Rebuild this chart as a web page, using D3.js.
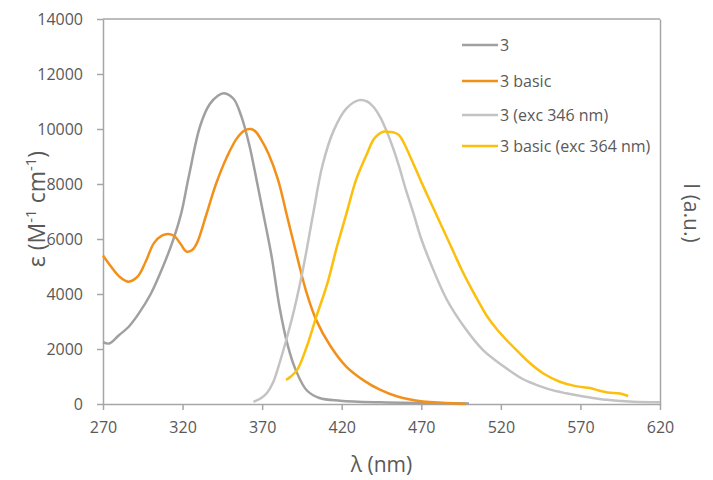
<!DOCTYPE html>
<html>
<head>
<meta charset="utf-8">
<script src="https://cdnjs.cloudflare.com/ajax/libs/d3/7.8.5/d3.min.js"></script>
<style>
body { margin: 0; background: #fff; font-family: "Open Sans", sans-serif; }
.axis text { fill: #595959; font-size: 16px; font-family: "Open Sans", sans-serif; }
.axis path, .axis line { stroke: #a6a6a6; stroke-width: 1.5; }
</style>
</head>
<body>
<svg width="713" height="480"></svg>
<script>
// absorption, compound 3  [wavelength nm, epsilon]
var abs3 = [[270,2250],[274,2200],[280,2500],[286,2800],[292,3250],[300,4000],[307,4900],[314,5950],
  [319,6900],[324,8300],[331,10100],[337,10900],[342,11200],[346,11300],[352,11100],[357,10450],
  [362,9400],[367,8000],[372,6550],[376,5350],[381,3500],[386,2150],[391,1250],[398,500],[406,220],
  [419,120],[444,60],[480,30],[500,15]];
// absorption, compound 3 basic
var abs3basic = [[270,5400],[275,5000],[280,4650],[286,4450],[292,4650],[297,5200],[302,5850],[307,6120],
  [311,6180],[315,6100],[319,5800],[322.5,5540],[326,5600],[329,5850],[335,6900],[341,8000],[348,9000],
  [354,9650],[359,9950],[363,10000],[366,9900],[369,9650],[374,9100],[380,8150],[386,6750],[392,5350],
  [398,4030],[404,3050],[413,2100],[423,1350],[434,850],[444,520],[455,270],[471,90],[485,40],[498,0]];
// emission, 3 (exc 346 nm), a.u.
var em3 = [[364.5,80],[369,200],[373,400],[377,800],[381,1500],[385,2300],[390,3400],[396,5000],[402,6900],
  [408,8700],[415,9950],[423,10750],[431,11050],[436,11000],[440,10800],[444,10450],[448,9950],[452,9350],
  [456,8650],[460,7850],[465,6950],[470,6000],[476,5100],[486,3800],[497,2800],[509,1950],[521,1400],[534,900],
  [540,750],[550,540],[561,390],[572,270],[582,180],[593,120],[603,85],[620,60]];
// emission, 3 basic (exc 364 nm), a.u.
var em3basic = [[385,870],[388,1000],[392,1240],[398,2080],[404,3170],[411,4390],[417,5720],[423,6930],
  [429,8150],[436,9120],[440,9620],[443,9800],[446,9900],[450,9890],[453,9870],[456,9780],[459,9500],
  [463,9000],[467,8480],[471,7950],[476,7320],[480,6820],[485,6190],[490,5560],[495,4930],[501,4250],
  [506,3720],[511,3220],[518,2680],[524,2300],[530,1950],[538,1500],[547,1100],[557,810],[567,650],
  [576,580],[581,500],[587,420],[595,380],[600,290]];

var seriesNames = ["3", "3 basic", "3 (exc 346 nm)", "3 basic (exc 364 nm)"];
var xTicks = [270,320,370,420,470,520,570,620];
var yTicks = [0,2000,4000,6000,8000,10000,12000,14000];

var svg = d3.select("svg");
var mLeft = 103, mRight = 660, mTop = 19, mBottom = 404;

var x = d3.scaleLinear().domain([270,620]).range([mLeft,mRight]);
var y = d3.scaleLinear().domain([0,14000]).range([mBottom,mTop]);
// right axis, intensity in a.u. (no labels)
var y2 = d3.scaleLinear().domain([0,14000]).range([mBottom,mTop]);

// frame: top border
svg.append("line").attr("x1",mLeft).attr("x2",mRight).attr("y1",mTop).attr("y2",mTop)
  .attr("stroke","#a6a6a6").attr("stroke-width",1.5);

svg.append("g").attr("class","axis")
  .attr("transform","translate(0,"+mBottom+")")
  .call(d3.axisBottom(x).tickValues(xTicks).tickSize(6).tickPadding(12).tickSizeOuter(0));

svg.append("g").attr("class","axis")
  .attr("transform","translate("+mLeft+",0)")
  .call(d3.axisLeft(y).tickValues(yTicks).tickFormat(d3.format("d")).tickSize(6).tickPadding(14).tickSizeOuter(0));

svg.append("g").attr("class","axis")
  .attr("transform","translate("+mRight+",0)")
  .call(d3.axisRight(y2).tickValues([]).tickSizeOuter(0));

var line = function(sc) {
  return d3.line().x(function(d){return x(d[0]);}).y(function(d){return sc(d[1]);})
    .curve(d3.curveCatmullRom);
};

var series = [
  {name: seriesNames[0], data: abs3, color: "#a0a0a0", sc: y},
  {name: seriesNames[1], data: abs3basic, color: "#f39019", sc: y},
  {name: seriesNames[2], data: em3, color: "#c3c3c3", sc: y2},
  {name: seriesNames[3], data: em3basic, color: "#fcbf0c", sc: y2}
];

series.forEach(function(s) {
  svg.append("path").datum(s.data)
    .attr("d", line(s.sc))
    .attr("fill","none")
    .attr("stroke", s.color)
    .attr("stroke-width", 2.5)
    .attr("stroke-linejoin","round");
});

// legend
var legY = [45, 81, 115, 146];
series.forEach(function(s, i) {
  svg.append("line").attr("x1",462).attr("x2",498).attr("y1",legY[i]).attr("y2",legY[i])
    .attr("stroke", s.color).attr("stroke-width",2.5);
  svg.append("text").attr("x",500).attr("y",legY[i]+5.5)
    .attr("fill","#595959").style("font-size","16px")
    .text(s.name);
});

// axis titles
svg.append("text").attr("x",(mLeft+mRight)/2).attr("y",472)
  .attr("text-anchor","middle").attr("fill","#595959").style("font-size","21px")
  .text("λ (nm)");

var yl = svg.append("text")
  .attr("transform","translate(45,209) rotate(-90)")
  .attr("text-anchor","middle").attr("fill","#595959").style("font-size","23px");
yl.append("tspan").text("ε (M");
yl.append("tspan").attr("dy",-9).style("font-size","15px").text("-1");
yl.append("tspan").attr("dy",9).text(" cm");
yl.append("tspan").attr("dy",-9).style("font-size","15px").text("-1");
yl.append("tspan").attr("dy",9).text(")");

svg.append("text")
  .attr("transform","translate(684,213) rotate(90)")
  .attr("text-anchor","middle").attr("fill","#595959").style("font-size","21px")
  .text("I (a.u.)");
</script>
</body>
</html>
